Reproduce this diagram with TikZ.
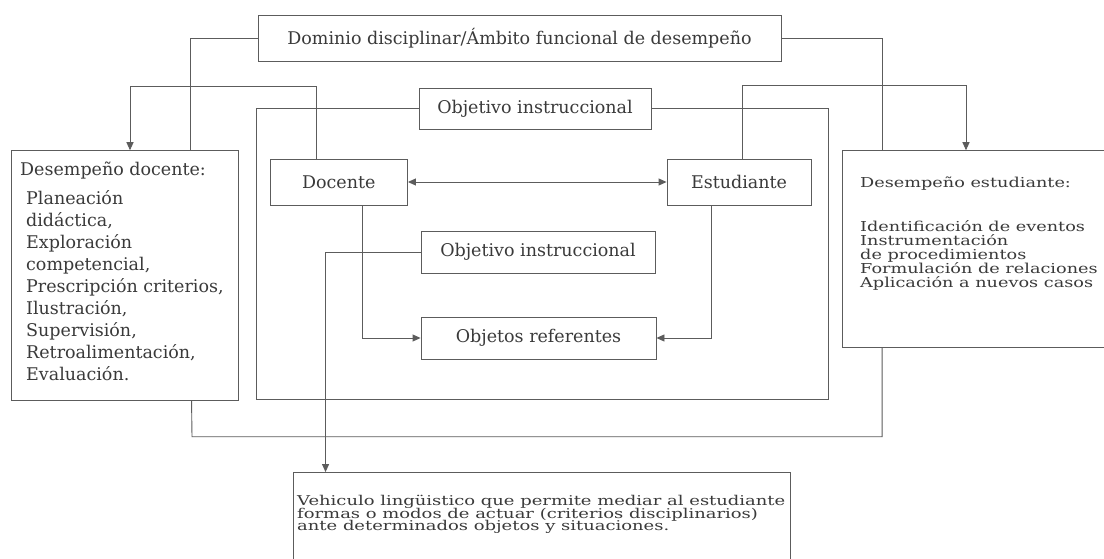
\documentclass[tikz,border=0pt]{standalone}
\usepackage{fontspec}
\setmainfont{DejaVu Serif}
\newfontfamily\bodyfont[FakeStretch=1.29]{DejaVu Serif}
\newfontfamily\vehfont[FakeStretch=1.33]{DejaVu Serif}
\usetikzlibrary{arrows.meta}
\definecolor{ln}{HTML}{5C5C5C}
\definecolor{tx}{HTML}{3A3A3A}
\begin{document}
\begin{tikzpicture}[x=1pt,y=-1pt,
  box/.style={draw=ln, line width=0.9pt, inner sep=0pt, text=tx},
  lbl/.style={font=\fontsize{17.5}{20}\selectfont, text=tx, inner sep=0pt},
  rtxt/.style={font=\bodyfont\fontsize{13.7}{14}\selectfont, text=tx, inner sep=0pt, anchor=base west},
  vtxt/.style={font=\vehfont\fontsize{13.5}{13}\selectfont, text=tx, inner sep=0pt, anchor=base west},
  wire/.style={draw=ln, line width=0.9pt},
  tip/.tip={Triangle[length=8pt,width=7pt]},
  arr/.style={wire, -tip},
]
\useasboundingbox (0,0) rectangle (1104,559);
\fill[white] (0,0) rectangle (1104,559);

% boxes
\node[box, lbl, minimum width=523pt, minimum height=46pt] (dom) at (519.5,38) {Dominio disciplinar/Ámbito funcional de desempeño};
\node[box, lbl, minimum width=232pt, minimum height=41pt] (obj1) at (535,108.5) {Objetivo instruccional};
\node[box, lbl, minimum width=137.5pt, minimum height=46pt] (doc) at (338.75,182) {Docente};
\node[box, lbl, minimum width=144pt, minimum height=46pt] (est) at (739,182) {Estudiante};
\node[box, lbl, minimum width=234pt, minimum height=42pt] (obj2) at (538,252) {Objetivo instruccional};
\node[box, lbl, minimum width=235pt, minimum height=42pt] (objref) at (538.5,338) {Objetos referentes};
\node[box, minimum width=227.7pt, minimum height=250pt] (dd) at (124.85,275.7) {};
\node[box, minimum width=263.5pt, minimum height=196.6pt] (de) at (974.25,249) {};
\node[box, minimum width=497pt, minimum height=89.5pt] (veh) at (541.5,517.25) {};

% texts in the large boxes
\node[lbl, anchor=base west] (ddt) at (20,175.5) {Desempeño docente:};
\foreach \t [count=\i] in {{Planeación},{didáctica,},{Exploración},{competencial,},{Prescripción criterios,},{Ilustración,},{Supervisión,},{Retroalimentación,},{Evaluación.}}
  \node[lbl, anchor=base west] (ddi\i) at (26,{204.5+22*(\i-1)}) {\t};

\node[rtxt] (det) at (860,188) {Desempeño estudiante:};
\foreach \t [count=\i] in {{Identificación de eventos},{Instrumentación},{de procedimientos},{Formulación de relaciones},{Aplicación a nuevos casos}}
  \node[rtxt] (dei\i) at (860,{232+13.9*(\i-1)}) {\t};

\node[vtxt] (veh1) at (297,505.5) {Vehiculo lingüistico que permite mediar al estudiante};
\node[vtxt] (veh2) at (297,518.2) {formas o modos de actuar (criterios disciplinarios)};
\node[vtxt] (veh3) at (297,530.9) {ante determinados objetos y situaciones.};

% connectors
\coordinate (k1) at (130,86);
\coordinate (k2) at (966,85);
\coordinate (k4) at (192,436.7);
\coordinate (bl) at (256,399);
\coordinate (br) at (828,399);

\draw[wire] (dom.west) -| ([xshift=180pt]dd.north west);
\draw[arr] ([xshift=-22.75pt]doc.north) |- (k1) -- (k1 |- dd.north);
\draw[wire] (dom.east) -| ([xshift=40pt]de.north west);
\draw[arr] ([xshift=3pt]est.north) |- (k2) -- (k2 |- de.north);
\draw[wire] (obj1.west) -| (bl) -- (br) |- (obj1.east);
\draw[wire, tip-tip] (doc.east) -- (est.west);
\draw[arr] ([xshift=23.5pt]doc.south) |- (objref.west);
\draw[arr] ([xshift=-28pt]est.south) |- (objref.east);
\draw[arr] (obj2.west) -| ([xshift=33pt]veh.north west);
\draw[wire] ([xshift=181pt]dd.south west) -- (k4) -| ([xshift=40pt]de.south west);
\end{tikzpicture}
\end{document}
